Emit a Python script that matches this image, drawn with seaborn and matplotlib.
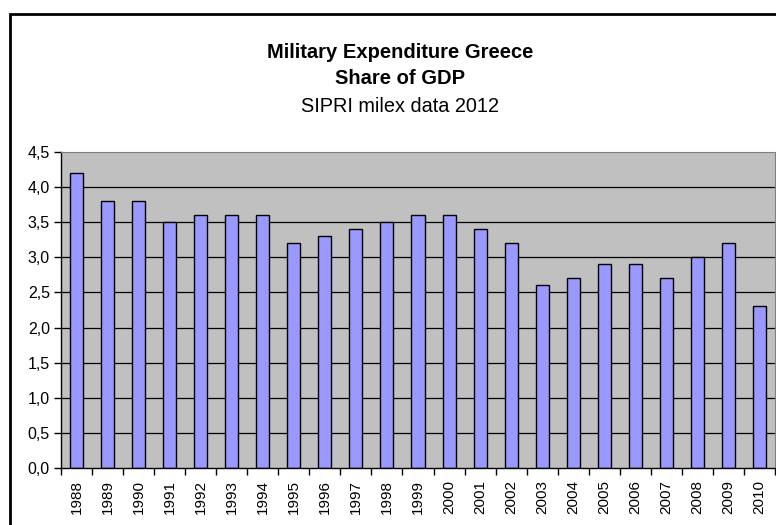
import matplotlib
matplotlib.use("Agg")
import matplotlib.pyplot as plt
from matplotlib.patches import Rectangle
from matplotlib.ticker import FixedLocator, FuncFormatter
import seaborn as sns
import pandas as pd

years = [str(y) for y in range(1988, 2011)]
share_of_gdp = [4.2, 3.8, 3.8, 3.5, 3.6, 3.6, 3.6, 3.2, 3.3, 3.4, 3.5, 3.6,
                3.6, 3.4, 3.2, 2.6, 2.7, 2.9, 2.9, 2.7, 3.0, 3.2, 2.3]
title_lines = ["Military Expenditure Greece", "Share of GDP"]
subtitle = "SIPRI milex data 2012"

df = pd.DataFrame({"year": years, "share": share_of_gdp})

sns.set_style("white")
plt.rcParams["font.family"] = ["Liberation Sans", "DejaVu Sans"]
plt.rcParams["text.color"] = "black"
plt.rcParams["xtick.color"] = "black"
plt.rcParams["ytick.color"] = "black"

fig = plt.figure(figsize=(7.76, 5.25), dpi=100)
ax = fig.add_axes([61 / 776, 1 - 468 / 525, 714 / 776, 316 / 525])
ax.set_facecolor("#C0C0C0")

# gridlines behind bars
for v in [0.5 * i for i in range(1, 9)]:
    ax.axhline(v, color="black", linewidth=0.9, zorder=0)

sns.barplot(data=df, x="year", y="share", color="#9999FF", edgecolor="black",
            linewidth=1.0, width=0.42, saturation=1, ax=ax, zorder=2)

ax.set_xlim(-0.5, len(years) - 0.5)
ax.set_ylim(0, 4.5)
ax.set_yticks([0.5 * i for i in range(10)])
ax.yaxis.set_major_formatter(FuncFormatter(lambda v, p: f"{v:.1f}".replace(".", ",")))
ax.tick_params(axis="y", length=5, width=1, colors="black", direction="out",
               labelsize=11.5, pad=3, left=True)
ax.tick_params(axis="x", which="major", length=0, labelsize=11, pad=9,
               labelrotation=90, bottom=True, labelcolor="black")
ax.xaxis.set_minor_locator(FixedLocator([i - 0.5 for i in range(len(years) + 1)]))
ax.tick_params(axis="x", which="minor", length=5, width=1, color="black",
               direction="out", bottom=True)
ax.set_xlabel("")
ax.set_ylabel("")

for side in ["left", "bottom"]:
    ax.spines[side].set_color("black")
    ax.spines[side].set_linewidth(1)
ax.spines["top"].set_color("#808080")
ax.spines["right"].set_color("#808080")

fig.text(400 / 776, 1 - 52 / 525, title_lines[0], ha="center", va="center",
         fontsize=14.5, fontweight="bold")
fig.text(400 / 776, 1 - 79 / 525, title_lines[1], ha="center", va="center",
         fontsize=14.5, fontweight="bold")
fig.text(400 / 776, 1 - 107 / 525, subtitle, ha="center", va="center",
         fontsize=14.3)

# chart border (only left and top visible in the crop)
fig.patches.append(Rectangle((9.5 / 776, -0.1), 1.2, 1.1 - 14 / 525,
                             transform=fig.transFigure, fill=False,
                             edgecolor="black", linewidth=2, clip_on=False))

fig.savefig("out.png", dpi=100)
